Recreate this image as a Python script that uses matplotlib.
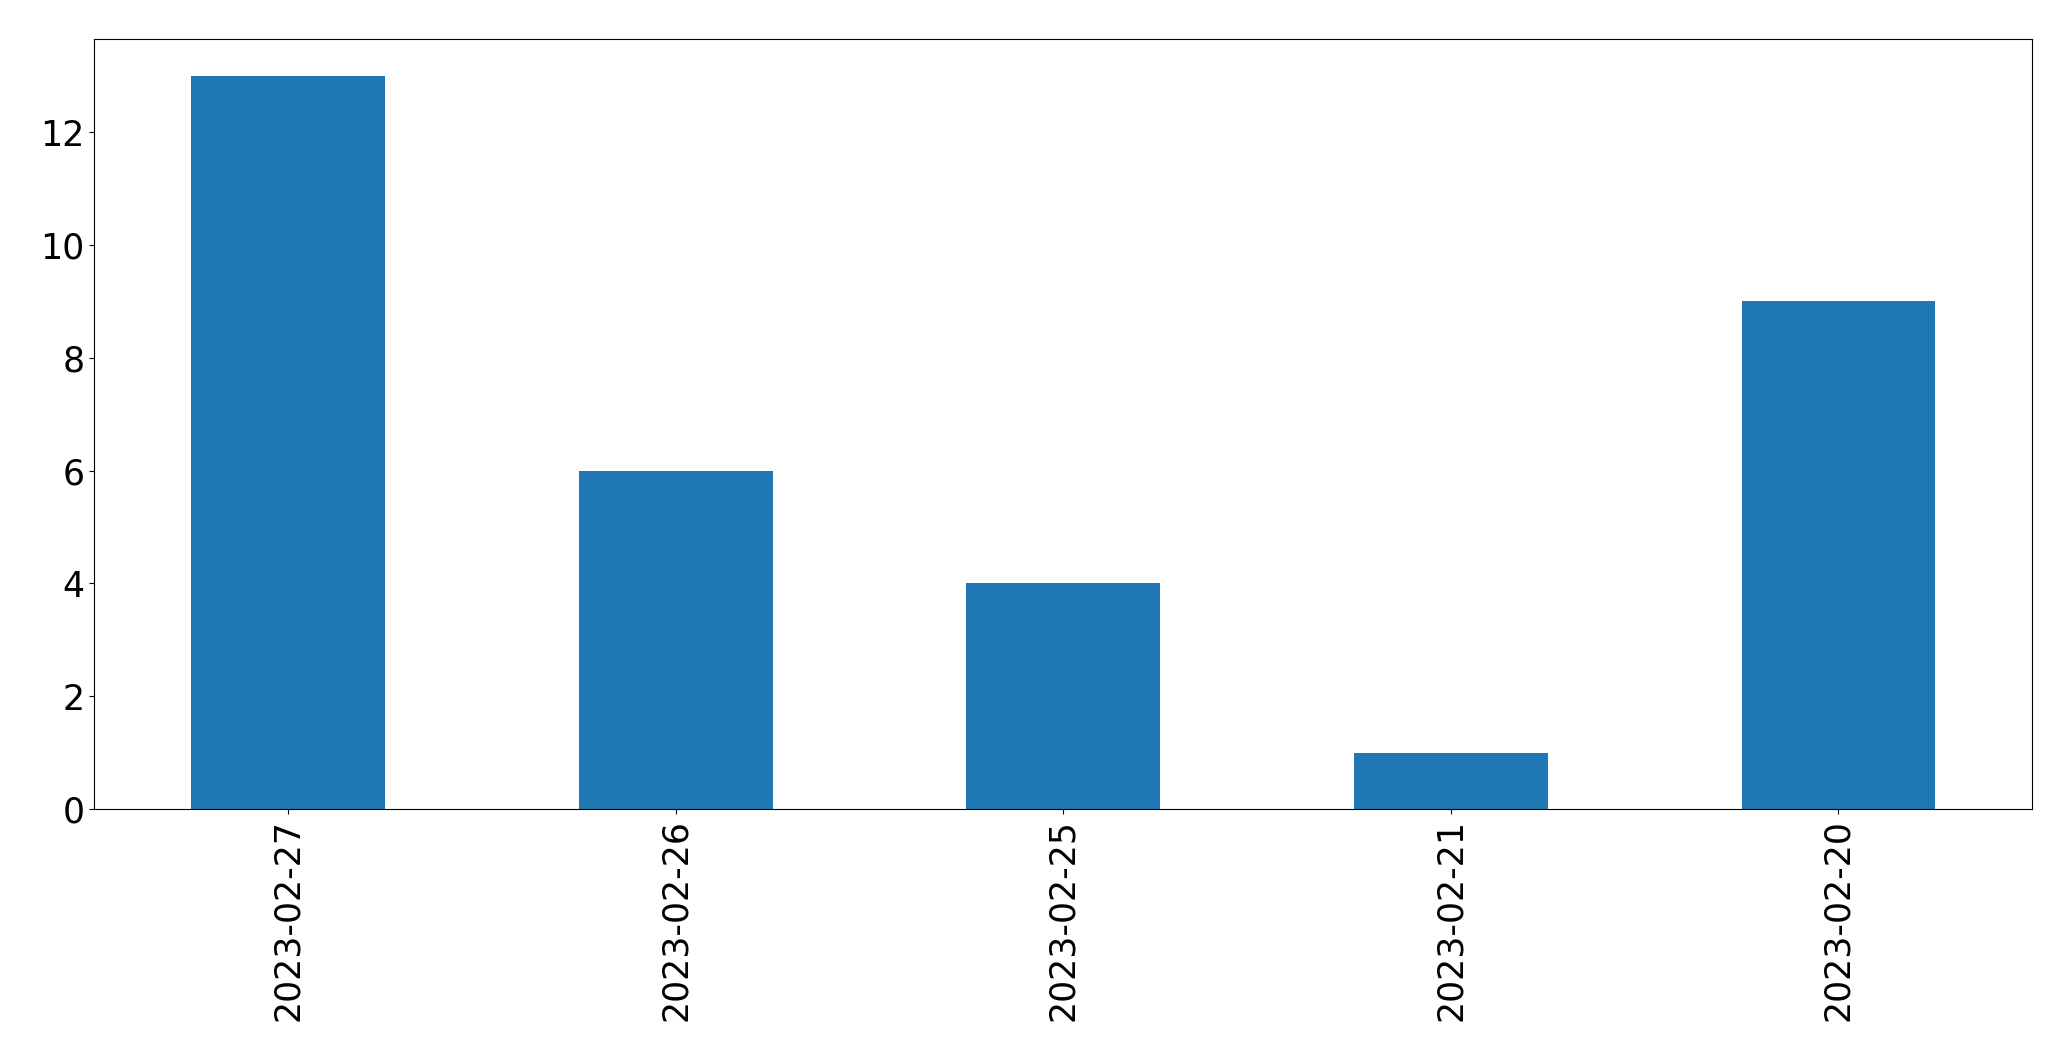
import matplotlib
matplotlib.use("Agg")
import matplotlib.pyplot as plt

# dates and counts
dates = ["2023-02-27", "2023-02-26", "2023-02-25", "2023-02-21", "2023-02-20"]
counts = [13, 6, 4, 1, 9]

fig = plt.figure(figsize=(20.71, 10.61), dpi=100)
ax = fig.add_axes([0.0455, 0.2375, 0.9358, 0.7255])

x = list(range(len(dates)))
ax.bar(x, counts, width=0.5, color="#1f77b4")
ax.set_xlim(-0.5, len(dates) - 0.5)
ax.set_ylim(0, max(counts) * 1.05)
ax.set_xticks(x)
ax.set_xticklabels(dates, rotation=90)
ax.tick_params(axis="both", labelsize=25)

fig.savefig("out.png", dpi=100)
